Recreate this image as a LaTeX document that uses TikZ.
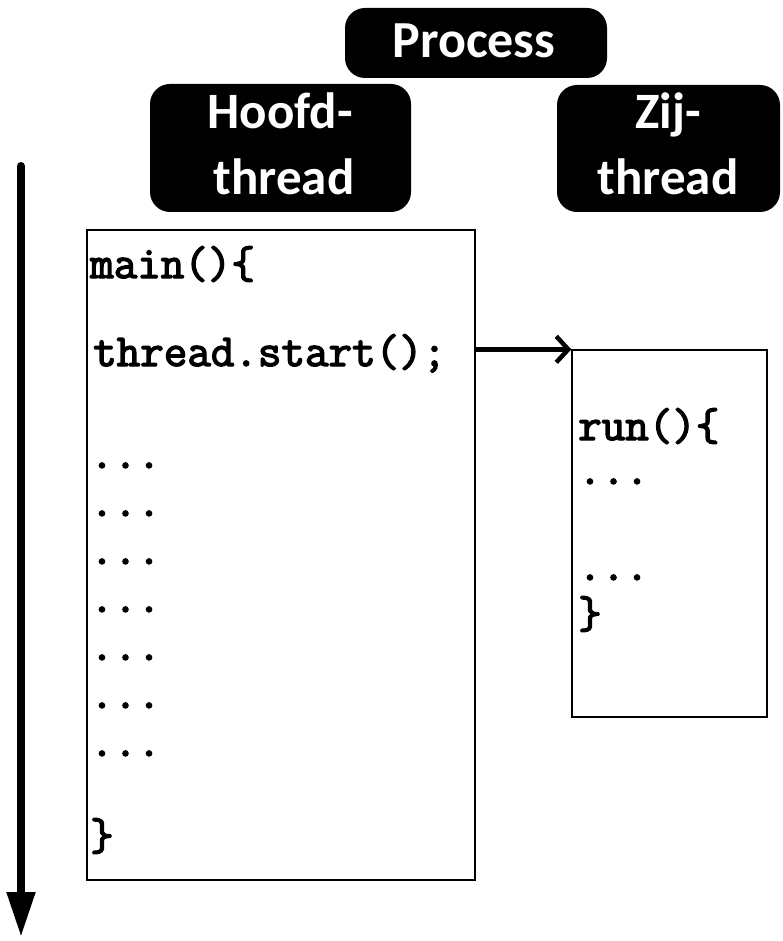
\documentclass[tikz,border=0pt]{standalone}
\usepackage{fontspec}
\setmainfont{Carlito}
\newfontfamily\codefont[FakeBold=3]{Latin Modern Mono}
\usetikzlibrary{arrows.meta}
\begin{document}
\begin{tikzpicture}[x=1pt,y=-1pt,
  hdrbox/.style={fill=black, rounded corners=20pt, inner sep=0pt},
  hdrtext/.style={text=white, font=\fontsize{51}{51}\selectfont\bfseries, anchor=base, inner sep=0pt},
  codebox/.style={draw=black, line width=1.3pt, inner sep=0pt},
  code/.style={font=\fontsize{45.7}{45.7}\selectfont\codefont\bfseries, anchor=base west, inner sep=0pt},
  link/.style={line width=4.5pt, -{Straight Barb[length=12pt,width=26pt,line width=4.5pt]}},
  timeline/.style={line width=8pt, line cap=round, -{Triangle[length=45pt,width=27pt]}},
]
\useasboundingbox (0,0) rectangle (782,941);

% header boxes
\node[hdrbox, minimum width=262pt, minimum height=70pt] (proc) at (476,43) {};
\node[hdrbox, minimum width=261pt, minimum height=128pt] (hoofd) at (280.5,148) {};
\node[hdrbox, minimum width=223pt, minimum height=127pt] (zij) at (668.5,148.5) {};

\node[hdrtext, font=\fontsize{52}{52}\selectfont\bfseries] (procT) at (474,58) {Process};
\node[hdrtext] (hoofdA) at (280,129) {Hoofd-};
\node[hdrtext] (hoofdB) at (284,195) {thread};
\node[hdrtext] (zijA) at (668,129) {Zij-};
\node[hdrtext] (zijB) at (668,195) {thread};

% code boxes
\node[codebox, minimum width=388pt, minimum height=650pt] (mainbox) at (281,555) {};
\node[codebox, minimum width=195pt, minimum height=367pt] (sidebox) at (669.5,533.5) {};

% main thread code
\node[code] (m1) at (90,278) {main()\{};
\node[code] (m2) at (93,366) {thread.start();};
\node[code] (d1) at (90,468) {...};
\node[code] (d2) at (90,516) {...};
\node[code] (d3) at (90,564) {...};
\node[code] (d4) at (90,612) {...};
\node[code] (d5) at (90,660) {...};
\node[code] (d6) at (90,708) {...};
\node[code] (d7) at (90,756) {...};
\node[code] (m3) at (90,850) {\}};

% side thread code
\node[code] (r1) at (578,440) {run()\{};
\node[code] (r2) at (578,484) {...};
\node[code] (r3) at (578,580) {...};
\node[code] (r4) at (578,628) {\}};

% start of the side thread
\draw[link] (mainbox.east |- sidebox.north west) -- (sidebox.north west);

% time axis
\coordinate (tstart) at (21,166);
\coordinate (tend) at (21,937);
\draw[timeline] (tstart) -- (tend);
\end{tikzpicture}
\end{document}
